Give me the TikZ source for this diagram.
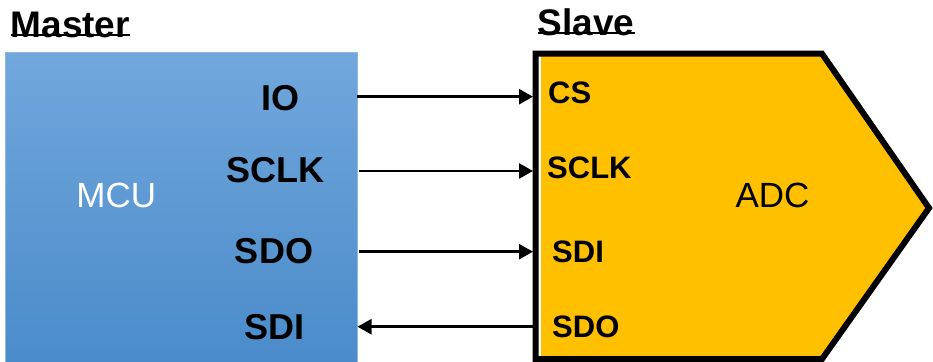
\documentclass[tikz,border=0pt]{standalone}
\usepackage{fontspec}
\setmainfont{Liberation Sans}
\usetikzlibrary{arrows.meta}
\definecolor{adcyellow}{RGB}{255,192,0}
\definecolor{mcutop}{RGB}{113,167,220}
\definecolor{mcubot}{RGB}{74,139,202}
\begin{document}
\begin{tikzpicture}[x=1pt,y=-1pt,
  title/.style={inner sep=0pt,anchor=base west,font=\fontsize{37}{37}\selectfont\bfseries},
  mlabel/.style={inner sep=0pt,font=\fontsize{36}{36}\selectfont\bfseries},
  slabel/.style={inner sep=0pt,anchor=west,font=\fontsize{31}{31}\selectfont\bfseries},
  bigname/.style={inner sep=0pt,font=\fontsize{35}{35}\selectfont},
  sig/.style={line width=2.6pt,-{Triangle[length=14pt,width=15pt]}}]
\useasboundingbox (0,0) rectangle (933,361);
% MCU box
\node[inner sep=0pt,minimum width=352pt,minimum height=312pt,anchor=north west,
  top color=mcutop,bottom color=mcubot,draw=mcutop!80!white,line width=0.6pt] (mcu) at (5,52) {};
\node[bigname,text=white] (mcuname) at (116.3,195.8) {MCU};
% ADC shape
\fill[adcyellow] (541,56) -- (822,56) -- (927,208) -- (822,357) -- (541,357) -- cycle;
\draw[line width=6pt,miter limit=10] (535.5,53.7) coordinate (adcnw) -- (822,53.7) -- (929,208) -- (822,359) -- (535.5,359) -- cycle;
\node[bigname] (adcname) at (772.5,195.8) {ADC};
% titles
\node[title] (master) at (10.5,37.5) {Master};
\draw[line width=2.3pt] ([yshift=2.4pt]master.base west) -- ([yshift=2.4pt]master.base east);
\node[title] (slave) at (537.5,36) {Slave};
\draw[line width=2.3pt] ([yshift=3.2pt]slave.base west) -- ([yshift=3.2pt]slave.base east);
% MCU pins
\node[mlabel] (mio) at (280.3,98) {IO};
\node[mlabel] (msclk) at (275,170.5) {SCLK};
\node[mlabel] (msdo) at (274,251.5) {SDO};
\node[mlabel] (msdi) at (274.5,327.5) {SDI};
% ADC pins
\node[slabel] (scs) at (548,93) {CS};
\node[slabel] (ssclk) at (547,168) {SCLK};
\node[slabel] (ssdi) at (552,252) {SDI};
\node[slabel] (ssdo) at (552,327) {SDO};
% pin coordinates
\coordinate (m1) at (357,96.7);
\coordinate (s1) at (533,96.7);
\coordinate (m2) at (359,171);
\coordinate (s2) at (533,171);
\coordinate (m3) at (359,251.7);
\coordinate (s3) at (533,251.7);
\coordinate (m4) at (357.5,326.7);
\coordinate (s4) at (533,326.7);
\draw[sig] (m1) -- (s1);
\draw[sig] (m2) -- (s2);
\draw[sig] (m3) -- (s3);
\draw[sig] (s4) -- (m4);
\end{tikzpicture}
\end{document}
